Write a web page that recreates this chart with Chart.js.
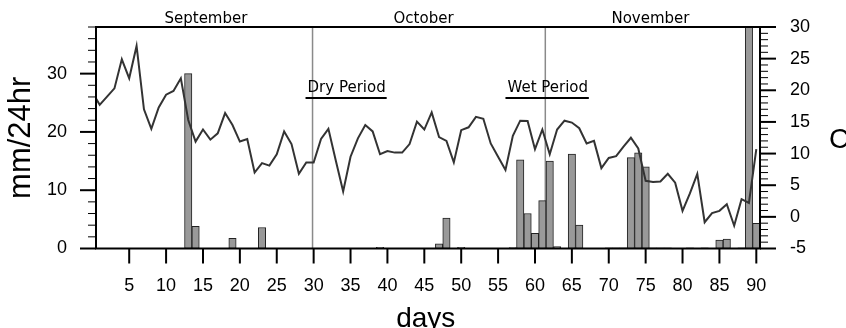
<!DOCTYPE html>
<html><head><meta charset="utf-8">
<script src="https://cdn.jsdelivr.net/npm/chart.js@4/dist/chart.umd.min.js"></script>
<style>html,body{margin:0;padding:0;background:#fff;overflow:hidden}canvas{display:block}</style>
</head><body>
<canvas id="c" width="846" height="328"></canvas>
<script>
// ---- data ----
const days = [1,2,3,4,5,6,7,8,9,10,11,12,13,14,15,16,17,18,19,20,21,22,23,24,25,26,27,28,29,30,
  31,32,33,34,35,36,37,38,39,40,41,42,43,44,45,46,47,48,49,50,51,52,53,54,55,56,57,58,59,60,
  61,62,63,64,65,66,67,68,69,70,71,72,73,74,75,76,77,78,79,80,81,82,83,84,85,86,87,88,89,90];
const rainfall = [0,0,0,0,0,0,0,0,0,0,0,0,30,3.8,0,0,0,0,1.75,0,0,0,3.6,0,0,0,0,0,0,0,
  0,0,0,0,0,0,0,0,0.2,0,0,0,0,0,0,0,0.8,5.2,0,0.2,0,0,0,0,0,0,0.15,15.2,6.0,2.6,
  8.2,15.0,0.35,0,16.2,4.0,0,0,0,0.1,0.1,0.1,15.6,16.4,14.0,0.1,0.1,0.1,0,0,0.1,0,0.1,0,1.45,1.6,0,0.1,45,4.3];
const tempDays = [0].concat(days);
const temperature = [19.7,
  17.7,19.0,20.3,24.9,21.9,27.0,17.0,13.9,17.3,19.3,19.9,21.9,15.3,11.9,13.8,12.2,13.2,16.4,14.5,11.9,
  12.3,7.0,8.5,8.1,9.9,13.5,11.5,6.8,8.6,8.6,12.3,13.9,8.9,4.0,9.5,12.4,14.5,13.5,9.9,10.4,
  10.15,10.15,11.5,15.05,13.8,16.5,12.6,12.0,8.6,13.7,14.15,15.8,15.5,11.6,9.5,7.4,12.8,15.2,15.15,10.7,
  13.8,9.9,13.8,15.2,14.9,14.0,11.6,12.0,7.7,9.3,9.6,11.1,12.5,10.8,5.7,5.5,5.6,6.8,5.4,0.95,
  3.7,6.8,-0.85,0.6,0.95,2.0,-1.4,2.8,2.2,10.7];
const xTickLabels = [5,10,15,20,25,30,35,40,45,50,55,60,65,70,75,80,85,90];
const leftTickLabels = [0,10,20,30];
const rightTickLabels = [-5,0,5,10,15,20,25,30];
const months = ['September','October','November'];
const monthCenters = [15.4, 44.9, 75.65];
const boundaryDays = [29.85, 61.4];
const periodNames = ['Dry Period','Wet Period'];
const periodStart = [28.9, 56.0];
const periodEnd = [39.9, 67.3];

// ---- styling / decoration ----
const TICK_FONT = {family: "'Liberation Sans', Arial, sans-serif", size: 18};
const LABEL_FONT = "15px 'DejaVu Sans', Verdana, sans-serif";
const noPad = s => { s.paddingTop = 0; s.paddingBottom = 0; s.paddingLeft = 0; s.paddingRight = 0; };

const deco = {
  id: 'deco',
  beforeDatasetsDraw(chart) {
    const {ctx, chartArea: a, scales: {x}} = chart;
    ctx.save();
    ctx.strokeStyle = '#8a8a8a';
    ctx.lineWidth = 1.5;
    boundaryDays.forEach(d => {
      const px = x.getPixelForValue(d);
      ctx.beginPath(); ctx.moveTo(px, a.top); ctx.lineTo(px, a.bottom); ctx.stroke();
    });
    ctx.restore();
  },
  afterDatasetsDraw(chart) {
    const {ctx, chartArea: a, scales: {x, y, y1}} = chart;
    ctx.save();
    ctx.strokeStyle = '#000';
    ctx.lineWidth = 2;
    ctx.strokeRect(a.left, a.top, a.right - a.left, a.bottom - a.top);
    for (let v = 0; v <= 38; v += 2) {
      const py = y.getPixelForValue(v);
      const major = v % 10 === 0;
      ctx.lineWidth = major ? 2 : 1;
      ctx.beginPath(); ctx.moveTo(a.left - (major ? 16 : 8), py); ctx.lineTo(a.left, py); ctx.stroke();
    }
    for (let v = -5; v <= 30; v += 1) {
      const py = y1.getPixelForValue(v);
      const major = v % 5 === 0;
      ctx.lineWidth = major ? 2 : 1;
      ctx.beginPath(); ctx.moveTo(a.right, py); ctx.lineTo(a.right + (major ? 16 : 8), py); ctx.stroke();
    }
    ctx.lineWidth = 2;
    xTickLabels.forEach(d => {
      const px = x.getPixelForValue(d);
      ctx.beginPath(); ctx.moveTo(px, a.bottom); ctx.lineTo(px, a.bottom + 15); ctx.stroke();
    });
    ctx.fillStyle = '#000';
    ctx.font = LABEL_FONT;
    ctx.textAlign = 'center';
    ctx.textBaseline = 'alphabetic';
    months.forEach((m, i) => ctx.fillText(m, x.getPixelForValue(monthCenters[i]), 22.5));
    periodNames.forEach((n, i) => {
      const x0 = x.getPixelForValue(periodStart[i]);
      const x1 = x.getPixelForValue(periodEnd[i]);
      const uy = y.getPixelForValue(25.8);
      ctx.textAlign = 'left';
      ctx.fillText(n, x0 + 2, uy - 6);
      ctx.lineWidth = 2;
      ctx.beginPath(); ctx.moveTo(x0, uy); ctx.lineTo(x1, uy); ctx.stroke();
    });
    ctx.font = "31px 'Liberation Sans', Arial, sans-serif";
    ctx.textAlign = 'center';
    ctx.textBaseline = 'middle';
    ctx.save();
    ctx.translate(21, (a.top + a.bottom) / 2);
    ctx.rotate(-Math.PI / 2);
    ctx.fillText('mm/24hr', 0, 0);
    ctx.restore();
    ctx.font = "28px 'Liberation Sans', Arial, sans-serif";
    ctx.textBaseline = 'alphabetic';
    ctx.fillText('days', x.getPixelForValue(45.2), 326.5);
    ctx.font = "28px 'Liberation Sans', Arial, sans-serif";
    ctx.textAlign = 'left';
    ctx.textBaseline = 'middle';
    ctx.fillText('C', 829, 140);
    ctx.restore();
  }
};

new Chart(document.getElementById('c'), {
  type: 'bar',
  data: {
    datasets: [
      {
        type: 'line',
        data: tempDays.map((d, i) => ({x: d, y: temperature[i]})),
        yAxisID: 'y1',
        borderColor: '#333333',
        borderWidth: 2,
        pointRadius: 0,
        tension: 0,
        fill: false,
        order: 0
      },
      {
        type: 'bar',
        data: days.map((d, i) => ({x: d, y: rainfall[i]})),
        yAxisID: 'y',
        backgroundColor: '#999999',
        borderColor: '#222222',
        borderWidth: 1,
        borderSkipped: false,
        barPercentage: 1,
        categoryPercentage: 1,
        order: 1
      }
    ]
  },
  options: {
    responsive: false,
    animation: false,
    devicePixelRatio: 1,
    layout: {padding: {top: 27, left: 0, right: 0, bottom: 0}},
    plugins: {legend: {display: false}, tooltip: {enabled: false}},
    scales: {
      x: {
        type: 'linear', min: 0.5, max: 90.5, offset: false,
        grid: {display: false, drawTicks: false, offset: false},
        border: {display: false},
        afterBuildTicks: s => { s.ticks = xTickLabels.map(v => ({value: v})); },
        afterFit: s => { s.height = 79.5; noPad(s); },
        ticks: {font: TICK_FONT, color: '#000', padding: 27, maxRotation: 0, autoSkip: false}
      },
      y: {
        position: 'left', min: 0, max: 38,
        grid: {display: false, drawTicks: false},
        border: {display: false},
        afterBuildTicks: s => { s.ticks = leftTickLabels.map(v => ({value: v})); },
        afterFit: s => { s.width = 96; noPad(s); },
        ticks: {font: TICK_FONT, color: '#000', padding: 29, autoSkip: false}
      },
      y1: {
        position: 'right', min: -5, max: 30,
        grid: {display: false, drawTicks: false},
        border: {display: false},
        afterBuildTicks: s => { s.ticks = rightTickLabels.map(v => ({value: v})); },
        afterFit: s => { s.width = 86; noPad(s); },
        ticks: {font: TICK_FONT, color: '#000', padding: 30, autoSkip: false}
      }
    }
  },
  plugins: [deco]
});
</script>
</body></html>
